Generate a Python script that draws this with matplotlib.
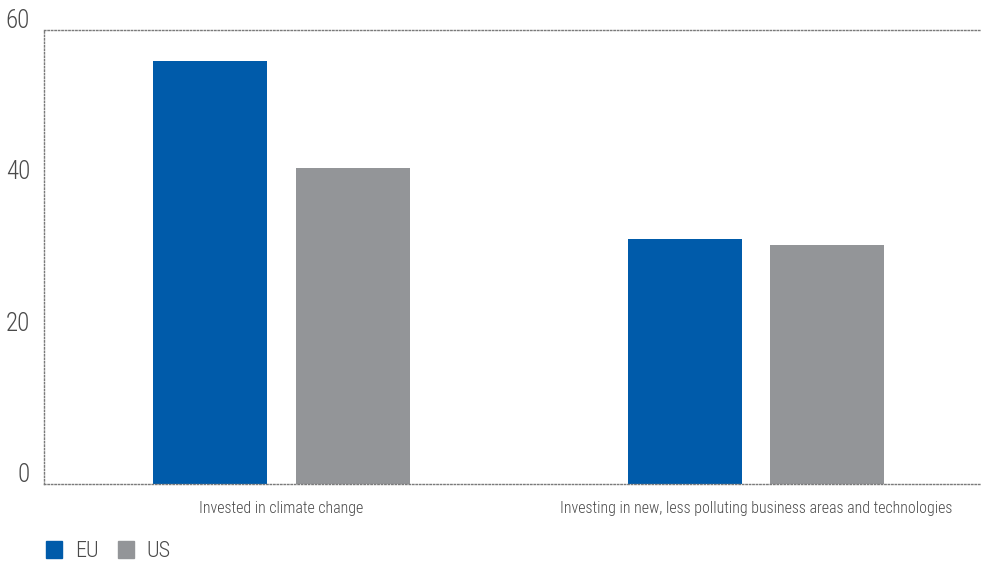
import matplotlib.pyplot as plt
import numpy as np
from matplotlib.patches import Patch

categories = ['Invested in climate change',
              'Investing in new, less polluting business areas and technologies']
eu = [55.9, 32.4]
us = [41.7, 31.6]
yticks = [0, 20, 40, 60]

blue = '#005BAA'
grey = '#939598'
txt = '#4a4a4a'

plt.rcParams['font.family'] = ['Roboto Condensed', 'Sofia Sans Condensed', 'DejaVu Sans']
plt.rcParams['font.weight'] = 300

fig = plt.figure(figsize=(9.81, 5.62), dpi=100)
ax = fig.add_axes([44 / 981, 1 - 484 / 562, 937 / 981, 454 / 562])

x = np.arange(len(categories))
w = 0.24
ax.bar(x - 0.1505, eu, w, color=blue)
ax.bar(x + 0.1505, us, w, color=grey)

ax.set_xlim(-0.5, 1.474)
ax.set_ylim(0, 60)

# dotted frame on top, left and bottom
for side in ['top', 'left', 'bottom']:
    ax.spines[side].set_linestyle((0, (1, 1.5)))
    ax.spines[side].set_color('#7a7a7a')
    ax.spines[side].set_linewidth(1)
ax.spines['right'].set_visible(False)

# y labels sit a little above their value
ax.set_yticks(yticks)
ax.set_yticklabels([])
for v in yticks:
    ax.annotate(str(v), xy=(0, v), xycoords=('axes fraction', 'data'),
                xytext=(-10, 6.5), textcoords='offset points',
                ha='right', va='center', fontsize=18, color=txt)
ax.tick_params(axis='y', length=0)

ax.set_xticks(x)
ax.set_xticklabels(categories, fontsize=11.4, color=txt)
ax.tick_params(axis='x', length=0, pad=12)

handles = [Patch(color=blue, label='EU'), Patch(color=grey, label='US')]
fig.legend(handles=handles, loc='lower left', bbox_to_anchor=(0.027, -0.036),
           ncol=2, frameon=False, fontsize=16, labelcolor=txt,
           handlelength=0.72, handleheight=0.85, handletextpad=0.55,
           columnspacing=0.9)

fig.savefig('out.png', dpi=100)
